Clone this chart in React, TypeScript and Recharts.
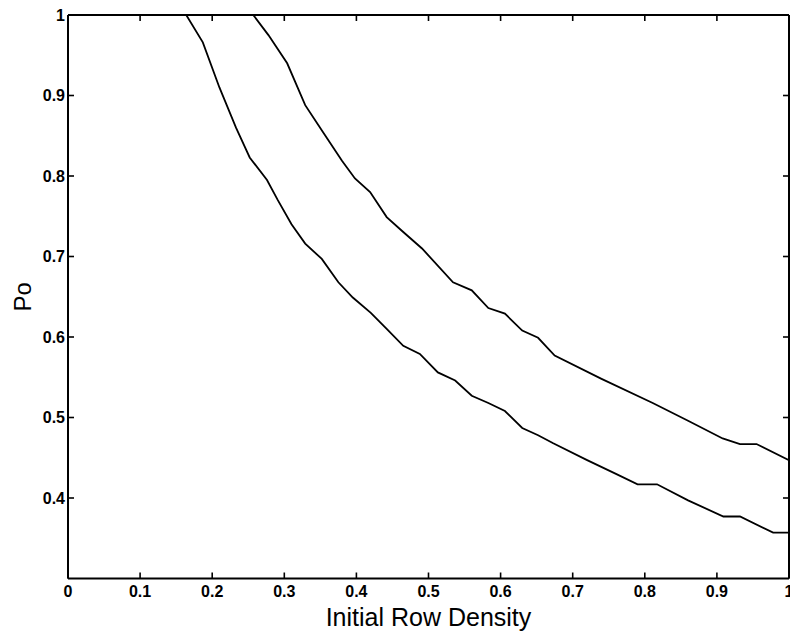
import React from 'react';
import { LineChart, Line, XAxis, YAxis, Label } from 'recharts';

// lower curve
const lowerX = [0.164, 0.187, 0.21, 0.233, 0.252, 0.276, 0.291, 0.31, 0.329, 0.352, 0.375, 0.395, 0.42, 0.442, 0.465, 0.488, 0.513, 0.537, 0.56, 0.583, 0.606, 0.63, 0.652, 0.673, 0.72, 0.76, 0.79, 0.817, 0.86, 0.909, 0.932, 0.978, 1.0];
const lowerY = [1.0, 0.966, 0.91, 0.86, 0.823, 0.795, 0.77, 0.74, 0.716, 0.697, 0.668, 0.649, 0.63, 0.61, 0.589, 0.579, 0.556, 0.546, 0.527, 0.518, 0.508, 0.487, 0.478, 0.468, 0.447, 0.43, 0.417, 0.417, 0.397, 0.377, 0.377, 0.357, 0.357];

// upper curve
const upperX = [0.257, 0.278, 0.304, 0.329, 0.354, 0.38, 0.398, 0.419, 0.442, 0.463, 0.491, 0.534, 0.56, 0.583, 0.606, 0.63, 0.652, 0.675, 0.74, 0.811, 0.86, 0.908, 0.932, 0.955, 1.0];
const upperY = [1.0, 0.975, 0.94, 0.888, 0.854, 0.819, 0.797, 0.78, 0.749, 0.732, 0.71, 0.668, 0.658, 0.636, 0.629, 0.608, 0.599, 0.577, 0.548, 0.518, 0.496, 0.474, 0.467, 0.467, 0.447];

const xTicks = [0, 0.1, 0.2, 0.3, 0.4, 0.5, 0.6, 0.7, 0.8, 0.9, 1];
const yTicks = [0.4, 0.5, 0.6, 0.7, 0.8, 0.9, 1];

const lower = lowerX.map((x, i) => ({ x, y: lowerY[i] }));
const upper = upperX.map((x, i) => ({ x, y: upperY[i] }));

const font = '"Liberation Sans", Arial, sans-serif';
const axisLine = { stroke: '#000', strokeWidth: 2 };
const TICK = 6;

// ticks point inward, labels sit outside
const BottomTick = ({ x, y, payload }: any) => (
  <g>
    <path d={`M${x},${y}V${y - TICK}`} stroke="#000" strokeWidth={1.6} />
    <text x={x} y={y + 18} textAnchor="middle" fontFamily={font} fontSize={16} fontWeight="bold" fill="#000">
      {String(payload.value)}
    </text>
  </g>
);

const LeftTick = ({ x, y, payload }: any) => (
  <g>
    <path d={`M${x},${y}H${x + TICK}`} stroke="#000" strokeWidth={1.6} />
    <text x={x - 3} y={y + 5.5} textAnchor="end" fontFamily={font} fontSize={16} fontWeight="bold" fill="#000">
      {String(payload.value)}
    </text>
  </g>
);

const TopTick = ({ x, y }: any) => (
  <g>
    <path d={`M${x},${y}V${y + TICK}`} stroke="#000" strokeWidth={1.6} />
  </g>
);

const RightTick = ({ x, y }: any) => (
  <g>
    <path d={`M${x},${y}H${x - TICK}`} stroke="#000" strokeWidth={1.6} />
  </g>
);

export default function App() {
  return (
    <div style={{ position: 'absolute', left: 0, top: 0, background: '#fff' }}>
      <LineChart width={790} height={632} margin={{ top: 14, right: 0, bottom: 0, left: 0 }}>
        <XAxis
          dataKey="x"
          type="number"
          domain={[0, 1]}
          ticks={xTicks}
          allowDataOverflow
          interval={0}
          height={53.5}
          tickSize={0}
          tickMargin={0}
          tick={<BottomTick />}
          axisLine={axisLine}
          tickLine={false}
        >
          <Label
            value="Initial Row Density"
            position="insideBottom"
            offset={6}
            style={{ fontFamily: font, fontSize: 25, fill: '#000' }}
          />
        </XAxis>
        <XAxis
          xAxisId="top"
          orientation="top"
          dataKey="x"
          type="number"
          domain={[0, 1]}
          ticks={xTicks}
          allowDataOverflow
          interval={0}
          height={1}
          tickSize={0}
          tickMargin={0}
          tick={<TopTick />}
          axisLine={axisLine}
          tickLine={false}
        />
        <YAxis
          type="number"
          domain={[0.3, 1]}
          ticks={yTicks}
          allowDataOverflow
          interval={0}
          width={68}
          tickSize={0}
          tickMargin={0}
          tick={<LeftTick />}
          axisLine={axisLine}
          tickLine={false}
        >
          <Label
            value="Po"
            angle={-90}
            position="insideLeft"
            offset={22}
            style={{ fontFamily: font, fontSize: 24, fill: '#000', textAnchor: 'middle' }}
          />
        </YAxis>
        <YAxis
          yAxisId="right"
          orientation="right"
          type="number"
          domain={[0.3, 1]}
          ticks={yTicks}
          allowDataOverflow
          interval={0}
          width={1}
          tickSize={0}
          tickMargin={0}
          tick={<RightTick />}
          axisLine={axisLine}
          tickLine={false}
        />
        <Line
          data={lower}
          dataKey="y"
          type="linear"
          stroke="#000"
          strokeWidth={1.8}
          dot={false}
          isAnimationActive={false}
        />
        <Line
          data={upper}
          dataKey="y"
          type="linear"
          stroke="#000"
          strokeWidth={1.8}
          dot={false}
          isAnimationActive={false}
        />
      </LineChart>
    </div>
  );
}
